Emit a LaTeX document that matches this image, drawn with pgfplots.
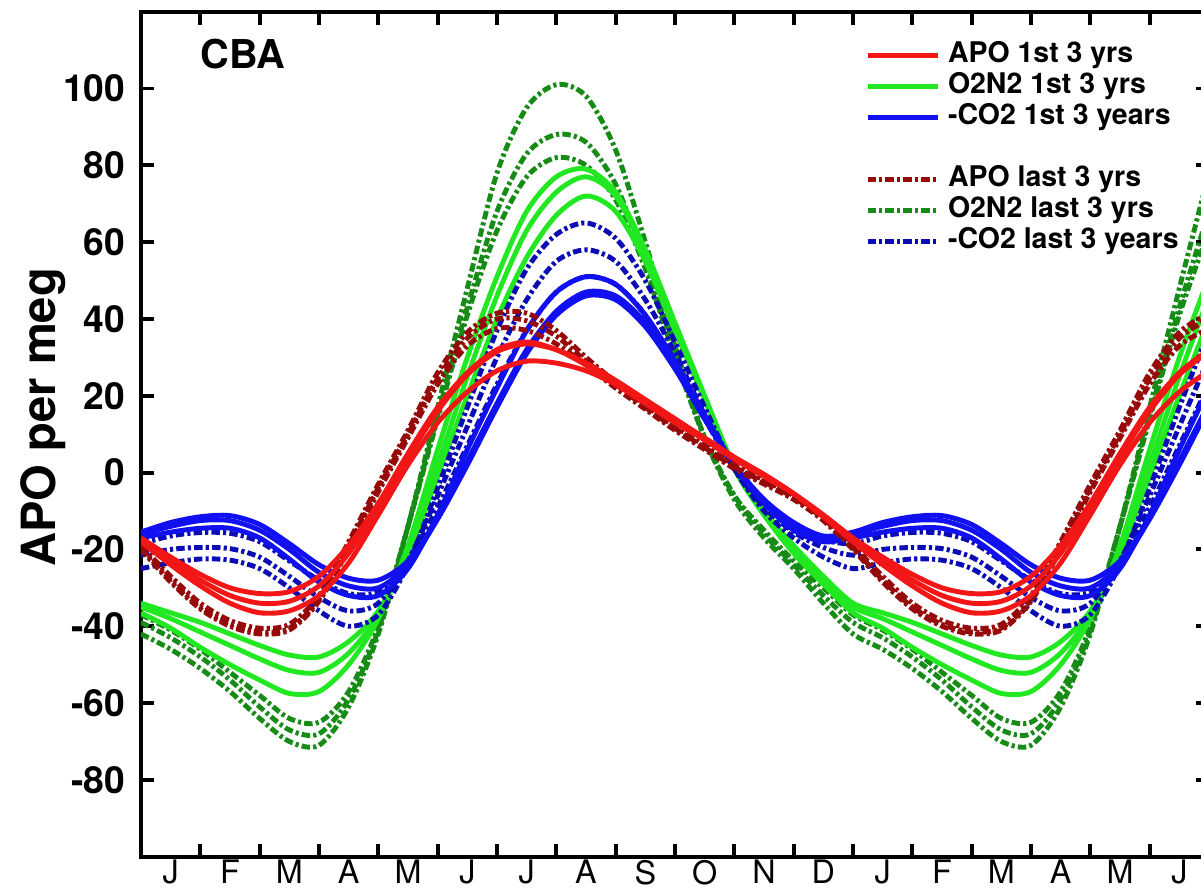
\documentclass[border=0pt]{standalone}
\usepackage{fontspec}
\setmainfont{TeX Gyre Heros}
\usepackage{pgfplots}
\usepackage{pgfplotstable}
\pgfplotsset{compat=1.18}

\definecolor{cRed}{RGB}{242,22,22}
\definecolor{cGreen}{RGB}{34,232,34}
\definecolor{cBlue}{RGB}{16,16,240}
\definecolor{cDRed}{RGB}{150,10,10}
\definecolor{cDGreen}{RGB}{22,140,22}
\definecolor{cDBlue}{RGB}{12,12,180}

% seasonal cycles, half-month steps; R/D = APO, G/H = O2N2, B/E = -CO2
% (first letter of each pair = 1st 3 yrs, second = last 3 yrs)
\pgfplotstableread{
x Ra Rb Rc Da Db Dc Ga Gb Gc Ha Hb Hc Ba Bb Bc Ea Eb Ec
0 -17 -17.5 -18 -19 -19.5 -20 -34 -35 -36.5 -37 -39 -42 -15.5 -16 -17 -18.5 -21.5 -25
0.5 -22 -23 -24 -27 -28 -28.5 -36.5 -38 -40.5 -41 -43 -46 -13 -14 -15.5 -16.5 -20 -23.5
1 -26.5 -28 -29.5 -34 -35 -35.5 -39 -41.5 -45.5 -46 -48 -51 -11.5 -12.5 -14.5 -15.6 -19.5 -22.5
1.5 -30 -32 -34 -38.5 -39.5 -40 -42 -45 -50 -52 -54 -57 -11.2 -12.5 -14.5 -15.8 -19.8 -22.8
2 -31.5 -34 -36.5 -40.5 -41.5 -42 -45 -48.5 -54 -58 -61 -64 -13.5 -15 -17 -18 -22 -25
2.5 -31 -33.5 -36 -39.5 -40.5 -41 -47.5 -51.5 -57.5 -64 -67 -70 -18.5 -20 -22.5 -23 -27 -30
3 -27 -29.5 -32 -32 -33 -33.5 -48 -52 -57 -65 -68 -71 -24 -26 -28.5 -28 -32.5 -36
3.5 -19 -21 -23.5 -18 -19 -20 -44 -47 -50 -57 -59 -61 -27.5 -29.5 -32 -31.5 -36 -40
4 -8 -9 -11 -3 -4 -5 -36 -37 -38 -40 -41 -42 -28 -30 -32 -31 -34 -37
4.5 5 4 2 11 10 9 -21 -20 -19 -14 -14 -14 -23 -24 -25 -23 -23 -24
5 17 16 13 26 24.5 23 -1 2 6 14 15 17 -12 -12 -11 -9 -6 -4
5.5 26 25.5 21 36.5 35 33 20 25 30 41 43 48 2 3 6 7 12 17
6 32 31.5 26.5 41.5 40 37.5 40 46 51 63 68 78 17 18 22 23 30 37
6.5 34 33.5 29 41.5 39.5 37 56 63 68 77 83 95 31 32 37 37 45 53
7 32 32 28.5 37 35.5 33.5 67 73 77 82 88 101 41 42 47 47 55 62
7.5 28 28.5 26.5 30 29 28 72 77 79 80 86 98 46 47 51 51 58 65
8 23 24 23 23.5 23 22 68 72 73 71 75 84 45 46 49 49 55 61
8.5 18 19 18.5 17.5 17 16.5 55 57 58 53 55 60 38 39 41 41 45 50
9 13 14 13.5 12 11.5 11 37 38 39 30 31 33 27 27.5 29 28 31 34
9.5 8.5 9 9 7 6.5 6 19 19 20 9 9 9 14 14 15 14 15 17
10 3.5 4 4 2 1.5 1 1 1 1.5 -6 -6 -7 2 2 2 1 1 1
10.5 -1 -0.5 -0.5 -2 -2.5 -3 -10 -11 -11 -15 -16 -17 -7 -7.5 -8 -8 -9 -10
11 -5.5 -5.5 -5.5 -6 -6.5 -7 -19 -20 -21 -23 -24 -25 -13 -14 -15 -14 -15.5 -17
11.5 -11 -11.5 -11.5 -11.5 -12 -12.5 -27 -28 -29 -30 -32 -34 -16.5 -17 -18 -17.5 -19.5 -22
12 -17 -17.5 -18 -19 -19.5 -20 -34 -35 -36.5 -37 -39 -42 -15.5 -16 -17 -18.5 -21.5 -25
12.5 -22 -23 -24 -27 -28 -28.5 -36.5 -38 -40.5 -41 -43 -46 -13 -14 -15.5 -16.5 -20 -23.5
13 -26.5 -28 -29.5 -34 -35 -35.5 -39 -41.5 -45.5 -46 -48 -51 -11.5 -12.5 -14.5 -15.6 -19.5 -22.5
13.5 -30 -32 -34 -38.5 -39.5 -40 -42 -45 -50 -52 -54 -57 -11.2 -12.5 -14.5 -15.8 -19.8 -22.8
14 -31.5 -34 -36.5 -40.5 -41.5 -42 -45 -48.5 -54 -58 -61 -64 -13.5 -15 -17 -18 -22 -25
14.5 -31 -33.5 -36 -39.5 -40.5 -41 -47.5 -51.5 -57.5 -64 -67 -70 -18.5 -20 -22.5 -23 -27 -30
15 -27 -29.5 -32 -32 -33 -33.5 -48 -52 -57 -65 -68 -71 -24 -26 -28.5 -28 -32.5 -36
15.5 -19 -21 -23.5 -18 -19 -20 -44 -47 -50 -57 -59 -61 -27.5 -29.5 -32 -31.5 -36 -40
16 -8 -9 -11 -3 -4 -5 -36 -37 -38 -40 -41 -42 -28 -30 -32 -31 -34 -37
16.5 5 4 2 11 10 9 -21 -20 -19 -14 -14 -14 -23 -24 -25 -23 -23 -24
17 17 16 13 26 24.5 23 -1 2 6 14 15 17 -12 -12 -11 -9 -6 -4
17.5 26 25.5 21 36.5 35 33 20 25 30 41 43 48 2 3 6 7 12 17
18 32 31.5 26.5 41.5 40 37.5 40 46 51 63 68 78 17 18 22 23 30 37
}\cycles

\begin{document}
\begin{tikzpicture}
\begin{axis}[
  name=ax,
  width=106.8mm, height=84.5mm, scale only axis,
  xmin=0, xmax=18, ymin=-100, ymax=120,
  xtick={0,...,18},
  x tick label as interval,
  xticklabels={J,F,M,A,M,J,J,A,S,O,N,D,J,F,M,A,M,J},
  ytick={-80,-60,-40,-20,0,20,40,60,80,100},
  yticklabels={-80,-60,-40,-20,0,20,40,60,80,100},
  tick align=inside,
  major tick length=1.3mm,
  tick style={black, line width=1.1pt},
  axis line style={line width=1.2pt},
  xticklabel style={font=\fontsize{9.2}{11}\selectfont, inner sep=0pt, yshift=-0.25mm},
  yticklabel style={font=\bfseries\fontsize{10.6}{12}\selectfont, inner sep=0pt, xshift=-1.5mm},
  ylabel={APO per meg},
  every axis y label/.style={at={(axis description cs:0,0.52)}, xshift=-9.8mm, rotate=90, anchor=center,
    font=\bfseries\fontsize{13.4}{15}\selectfont},
  sol/.style={line width=1.4pt, smooth},
  dd/.style={line width=1.4pt, smooth, dash pattern=on 2.4pt off 0.9pt on 0.9pt off 0.9pt},
  legend style={at={(0.678,0.967)}, anchor=north west, draw=none, fill=none,
    inner sep=0pt, outer sep=0pt, font=\bfseries\fontsize{8.1}{9}\selectfont,
    row sep=0pt, column sep=0.6mm,
    nodes={inner sep=0.2mm, text height=2.1mm, text depth=0.6mm}},
  legend cell align=left,
  legend image code/.code={\draw[#1] (0mm,0mm) -- (7mm,0mm);},
]
% O2N2
\addplot[dd, cDGreen, forget plot] table[x=x, y=Ha] {\cycles};
\addplot[dd, cDGreen, forget plot] table[x=x, y=Hb] {\cycles};
\addplot[dd, cDGreen, forget plot] table[x=x, y=Hc] {\cycles};
\addplot[sol, cGreen, forget plot] table[x=x, y=Ga] {\cycles};
\addplot[sol, cGreen, forget plot] table[x=x, y=Gb] {\cycles};
\addplot[sol, cGreen, forget plot] table[x=x, y=Gc] {\cycles};
% -CO2
\addplot[dd, cDBlue, forget plot] table[x=x, y=Ea] {\cycles};
\addplot[dd, cDBlue, forget plot] table[x=x, y=Eb] {\cycles};
\addplot[dd, cDBlue, forget plot] table[x=x, y=Ec] {\cycles};
\addplot[sol, cBlue, forget plot] table[x=x, y=Ba] {\cycles};
\addplot[sol, cBlue, forget plot] table[x=x, y=Bb] {\cycles};
\addplot[sol, cBlue, forget plot] table[x=x, y=Bc] {\cycles};
% APO
\addplot[dd, cDRed, forget plot] table[x=x, y=Da] {\cycles};
\addplot[dd, cDRed, forget plot] table[x=x, y=Db] {\cycles};
\addplot[dd, cDRed, forget plot] table[x=x, y=Dc] {\cycles};
\addplot[sol, cRed, forget plot] table[x=x, y=Ra] {\cycles};
\addplot[sol, cRed, forget plot] table[x=x, y=Rb] {\cycles};
\addplot[sol, cRed, forget plot] table[x=x, y=Rc] {\cycles};

\addlegendimage{sol, cRed}\addlegendentry{APO 1st 3 yrs}
\addlegendimage{sol, cGreen}\addlegendentry{O2N2 1st 3 yrs}
\addlegendimage{sol, cBlue}\addlegendentry{-CO2 1st 3 years}
\addlegendimage{empty legend}\addlegendentry{}
\addlegendimage{dd, cDRed}\addlegendentry{APO last 3 yrs}
\addlegendimage{dd, cDGreen}\addlegendentry{O2N2 last 3 yrs}
\addlegendimage{dd, cDBlue}\addlegendentry{-CO2 last 3 years}

\node[anchor=base west, inner sep=0pt, font=\bfseries\fontsize{11.3}{13}\selectfont]
  at (rel axis cs:0.055,0.9325) {CBA};
\end{axis}
\pgfresetboundingbox
\path[use as bounding box] ([xshift=-14.1mm,yshift=-3.2mm]ax.south west)
  rectangle ([xshift=-0.8mm,yshift=1.17mm]ax.north east);
\end{tikzpicture}
\end{document}
